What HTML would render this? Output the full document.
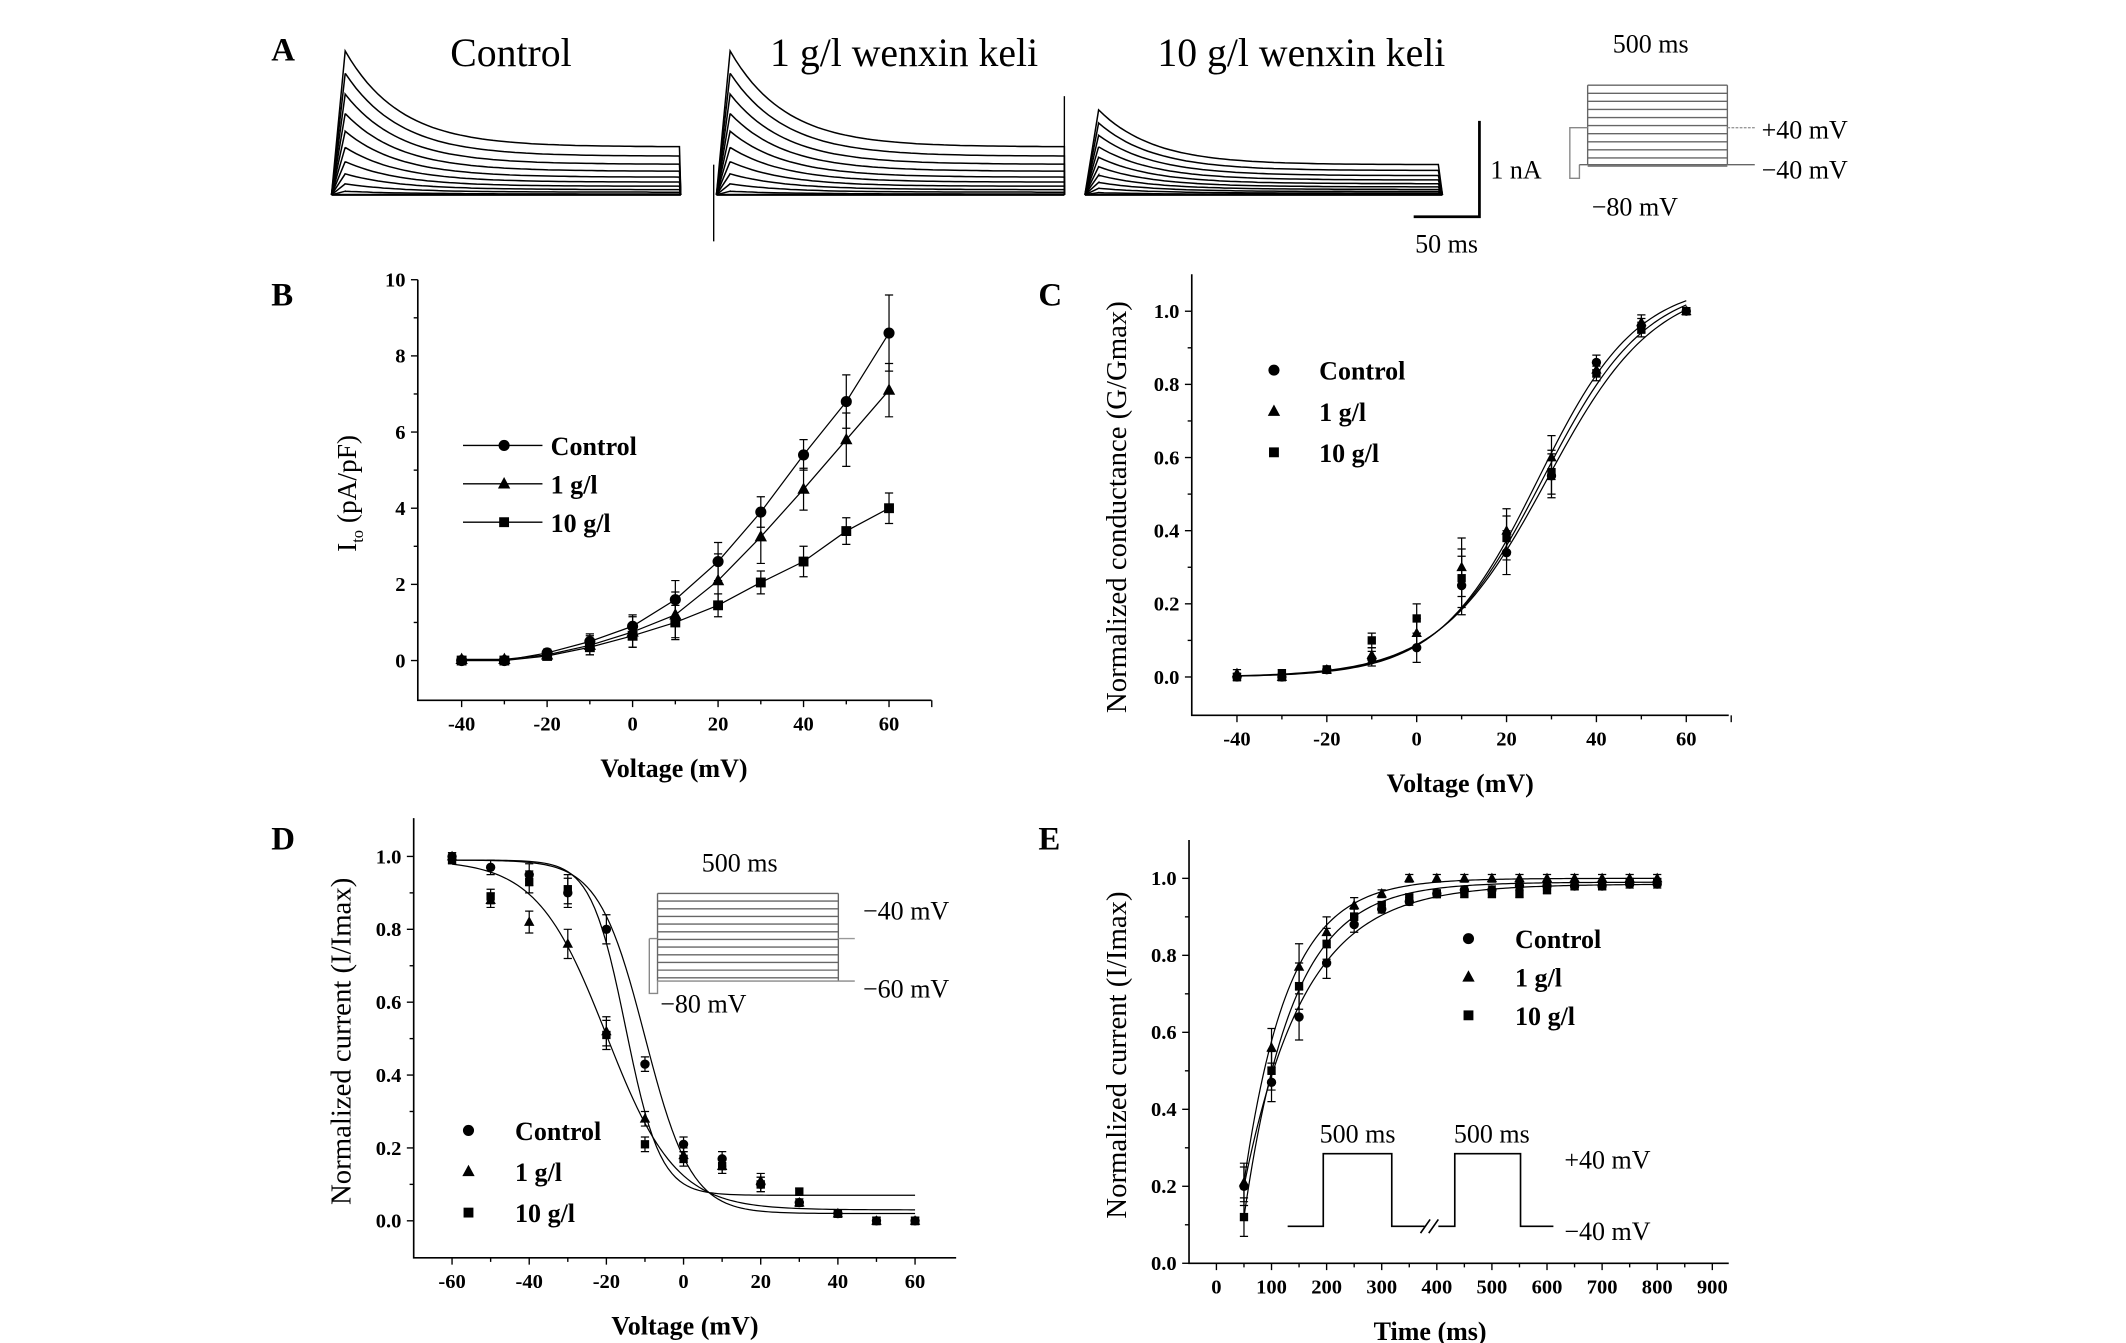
<!DOCTYPE html>
<html><head><meta charset="utf-8">
<style>
html,body{margin:0;padding:0;background:#fff;}
svg{display:block;}
text{font-family:"Liberation Serif",serif;fill:#000;}
.b{font-weight:bold;}
</style></head>
<body>
<svg id="fig" xmlns="http://www.w3.org/2000/svg" width="2126" height="1343" viewBox="0 0 1552 980">
<g id="A"></g>
<g id="B"></g>
<g id="C"></g>
<g id="D"></g>
<g id="E"></g>
</svg>
<script>
// ---------- DATA ----------
const voltsB = [-40,-30,-20,-10,0,10,20,30,40,50,60];
const bControl = [0,0,0.2,0.5,0.9,1.6,2.6,3.9,5.4,6.8,8.6];
const bControlErr = [0.05,0.05,0.1,0.2,0.3,0.5,0.5,0.4,0.4,0.7,1.0];
const b1g = [0.03,0.03,0.15,0.4,0.75,1.2,2.1,3.25,4.5,5.8,7.1];
const b1gErr = [0.05,0.05,0.1,0.25,0.4,0.6,0.7,0.7,0.55,0.7,0.7];
const b10g = [0,0,0.12,0.35,0.65,1.0,1.45,2.05,2.6,3.4,4.0];
const b10gErr = [0.05,0.05,0.1,0.2,0.3,0.45,0.3,0.3,0.4,0.35,0.4];
const bYTicks = [0,2,4,6,8,10];
const bXTicks = [-40,-20,0,20,40,60];

const voltsC = [-40,-30,-20,-10,0,10,20,30,40,50,60];
const cControl = [0,0,0.02,0.05,0.08,0.25,0.34,0.55,0.86,0.96,1.0];
const c1g = [0.01,0,0.02,0.06,0.12,0.3,0.4,0.6,0.84,0.97,1.0];
const c10g = [0,0.01,0.02,0.1,0.16,0.27,0.38,0.56,0.83,0.95,1.0];
const cErr = [0.01,0.01,0.01,0.02,0.04,0.08,0.06,0.06,0.02,0.02,0.01];
const cFitVhalf = [27,28,29];
const cFitK = [11,11.5,12];
const cYTicks = [0,0.2,0.4,0.6,0.8,1.0];
const cXTicks = [-40,-20,0,20,40,60];

const voltsD = [-60,-50,-40,-30,-20,-10,0,10,20,30,40,50,60];
const dControl = [1.0,0.97,0.95,0.9,0.8,0.43,0.21,0.17,0.1,0.05,0.02,0,0];
const d1g = [1.0,0.88,0.82,0.76,0.52,0.28,0.18,0.15,0.11,0.05,0.02,0,0];
const d10g = [0.99,0.89,0.93,0.91,0.51,0.21,0.17,0.15,0.1,0.08,0.02,0,0];
const dErr = [0.01,0.02,0.03,0.04,0.04,0.02,0.02,0.02,0.02,0.01,0.01,0.01,0.01];
const dFitV = [-10,-20,-15];
const dFitK = [6,9,4.5];
const dFitBase = [0.02,0.03,0.07];
const dYTicks = [0,0.2,0.4,0.6,0.8,1.0];
const dXTicks = [-60,-40,-20,0,20,40,60];

const timesE = [50,100,150,200,250,300,350,400,450,500,550,600,650,700,750,800];
const eControl = [0.2,0.47,0.64,0.78,0.88,0.92,0.94,0.96,0.97,0.97,0.98,0.98,0.98,0.98,0.985,0.985];
const e1g = [0.21,0.56,0.77,0.86,0.93,0.96,1.0,1.0,1.0,1.0,1.0,1.0,1.0,1.0,1.0,1.0];
const e10g = [0.12,0.5,0.72,0.83,0.9,0.93,0.95,0.96,0.96,0.96,0.96,0.97,0.98,0.98,0.99,0.99];
const eErr = [0.05,0.05,0.06,0.04,0.02,0.01,0.01,0.01,0.01,0.01,0.01,0.01,0.01,0.01,0.01,0.01];
const eTau = [110,80,88];
const eYTicks = [0,0.2,0.4,0.6,0.8,1.0];
const eXTicks = [0,100,200,300,400,500,600,700,800,900];

const NS="http://www.w3.org/2000/svg";
function el(parent,tag,attrs,txt){const e=document.createElementNS(NS,tag);for(const k in attrs)e.setAttribute(k,attrs[k]);if(txt!==undefined)e.textContent=txt;parent.appendChild(e);return e;}
function lin(d0,d1,r0,r1){return v=>r0+(v-d0)*(r1-r0)/(d1-d0);}

function marker(g,shape,x,y,s){
  let m;
  if(shape==='circle'){m=el(g,'circle',{cx:x,cy:y,r:s*0.9,fill:'#000'});}
  else if(shape==='tri'){m=el(g,'polygon',{points:`${x},${y-s*1.1} ${x-s},${y+s*0.75} ${x+s},${y+s*0.75}`,fill:'#000'});}
  else {m=el(g,'rect',{x:x-s*0.8,y:y-s*0.8,width:s*1.6,height:s*1.6,fill:'#000'});}
  
  
  return m;
}
function errbar(g,x,y1,y2){
  const e=el(g,'path',{d:`M${x},${y1}V${y2}M${x-3},${y1}H${x+3}M${x-3},${y2}H${x+3}`,stroke:'#000','stroke-width':0.9,fill:'none'});
  
  
}
function axes(g,o){
  const ax=el(g,'g',{});
  
  
  el(ax,'path',{d:`M${o.left},${o.top}V${o.bottom}H${o.right}`,stroke:'#000','stroke-width':1.2,fill:'none'});
  o.yt.forEach((v,i)=>{const y=o.ys(v);el(ax,'line',{x1:o.left-5,x2:o.left,y1:y,y2:y,stroke:'#000'});
    const t=el(ax,'text',{x:o.left-9,y:y+5,'text-anchor':'end','font-size':15,class:'b'},o.yl?o.yl[i]:v);
    
    if(i<o.yt.length-1){const ym=o.ys((v+o.yt[i+1])/2);el(ax,'line',{x1:o.left-3,x2:o.left,y1:ym,y2:ym,stroke:'#000'});}
  });
  o.xt.forEach((v,i)=>{const x=o.xs(v);el(ax,'line',{x1:x,x2:x,y1:o.bottom,y2:o.bottom+5,stroke:'#000'});
    const t=el(ax,'text',{x:x,y:o.bottom+22,'text-anchor':'middle','font-size':15,class:'b'},v);
    
    if(i<o.xt.length-1){const xm=o.xs((v+o.xt[i+1])/2);el(ax,'line',{x1:xm,x2:xm,y1:o.bottom,y2:o.bottom+3,stroke:'#000'});}
  });
  if(o.xmax!==undefined){const xm=o.xs(o.xmax);el(ax,'line',{x1:xm,x2:xm,y1:o.bottom,y2:o.bottom+5,stroke:'#000'});}
  const xt=el(ax,'text',{x:o.xtx,y:o.bottom+56,'text-anchor':'middle','font-size':19,class:'b'},o.xtitle);
  
}
function ytitle(g,x,y,txt,size){
  const t=el(g,'text',{x:0,y:0,transform:`translate(${x},${y}) rotate(-90)`,'text-anchor':'middle','font-size':size||20},txt);
  
  return t;
}
function label(g,x,y,t){const e=el(g,'text',{x:x,y:y,'font-size':24,class:'b'},t);}

// ---------- PANEL A ----------
(function(){
  const g=document.getElementById('A');
  label(g,198,44,'A');
  const titles=[['Control',373],['1 g/l wenxin keli',660],['10 g/l wenxin keli',950]];
  titles.forEach(t=>{const e=el(g,'text',{x:t[1],y:48,'text-anchor':'middle','font-size':29},t[0]);});
  const sets=[{x0:242,x1:497,base:142,peak:105,ss:35},{x0:523,x1:777,base:142,peak:105,ss:35},{x0:792,x1:1053,base:142,peak:62,ss:22}];
  sets.forEach((s,si)=>{
    const tg=el(g,'g',{});
    
    for(let k=0;k<11;k++){
      const f=Math.pow(k/10,1.6);
      const pk=s.peak*f, sv=s.ss*f*(0.7+0.3*f);
      let d=`M${s.x0},${s.base}`;
      const tp=s.x0+10;
      d+=`L${tp},${s.base-pk}`;
      for(let x=tp;x<=s.x1;x+=4){const t=(x-tp);const y=s.base-(sv+(pk-sv)*Math.exp(-t/40));d+=`L${x},${y.toFixed(1)}`;}
      d+=`L${s.x1},${s.base}`;
      el(tg,'path',{d:d,stroke:'#000','stroke-width':1.1,fill:'none'});
    }
    el(tg,'line',{x1:s.x0,x2:s.x1,y1:s.base,y2:s.base,stroke:'#000','stroke-width':1.5});
  });
  el(g,'line',{x1:521,x2:521,y1:120,y2:176,stroke:'#000','stroke-width':1});
  el(g,'line',{x1:777,x2:777,y1:70,y2:142,stroke:'#000','stroke-width':1});
  const sb=el(g,'path',{d:'M1080,88V158H1032',stroke:'#000','stroke-width':2,fill:'none'});
  
  el(g,'text',{x:1088,y:130,'font-size':19},'1 nA');
  el(g,'text',{x:1056,y:184,'text-anchor':'middle','font-size':19},'50 ms');
  const pg=el(g,'g',{});
  
  el(pg,'text',{x:1205,y:38,'text-anchor':'middle','font-size':19},'500 ms');
  for(let i=0;i<11;i++){const y=62+i*5.9;el(pg,'line',{x1:1159,x2:1261,y1:y,y2:y,stroke:'#666','stroke-width':1});}
  el(pg,'line',{x1:1159,x2:1159,y1:62,y2:120,stroke:'#666'});
  el(pg,'line',{x1:1261,x2:1261,y1:62,y2:120,stroke:'#666'});
  el(pg,'path',{d:'M1153,120V130H1146V93H1159',stroke:'#888',fill:'none'});
  el(pg,'path',{d:'M1153,120H1281',stroke:'#666',fill:'none'});
  el(pg,'line',{x1:1261,x2:1281,y1:93,y2:93,stroke:'#999','stroke-dasharray':'2,1'});
  el(pg,'text',{x:1286,y:101,'font-size':19},'+40 mV');
  el(pg,'text',{x:1286,y:130,'font-size':19},'−40 mV');
  el(pg,'text',{x:1162,y:157,'font-size':19},'−80 mV');
})();

// ---------- PANEL B ----------
(function(){
  const g=document.getElementById('B');
  label(g,198,223,'B');
  const xs=lin(-40,60,337,649), ys=lin(0,10,482,204);
  axes(g,{left:305,top:204,bottom:511,right:680,xs,ys,yt:bYTicks,xt:bXTicks,xtx:492,xtitle:'Voltage (mV)',xmax:70});
  const t=ytitle(g,260,360,'',20);
  t.innerHTML='I<tspan font-size="12" dy="5">to</tspan><tspan dy="-5"> (pA/pF)</tspan>';
  const series=[[bControl,bControlErr,'circle'],[b1g,b1gErr,'tri'],[b10g,b10gErr,'square']];
  const names=['series-control','series-1g','series-10g'];
  series.forEach((s,si)=>{
    const sg=el(g,'g',{});
    
    el(sg,'polyline',{points:voltsB.map((v,i)=>`${xs(v)},${ys(s[0][i])}`).join(' '),stroke:'#000','stroke-width':0.9,fill:'none'});
    voltsB.forEach((v,i)=>{errbar(sg,xs(v),ys(s[0][i]+s[1][i]),ys(s[0][i]-s[1][i]));marker(sg,s[2],xs(v),ys(s[0][i]),4.5);});
  });
  const lg=el(g,'g',{});
  
  [['Control','circle',326],['1 g/l','tri',354],['10 g/l','square',382]].forEach(e=>{
    const eg=el(lg,'g',{});
    
    el(eg,'line',{x1:338,x2:396,y1:e[2]-1,y2:e[2]-1,stroke:'#000'});
    marker(eg,e[1],368,e[2]-1,4.5);
    el(eg,'text',{x:402,y:e[2]+6,'font-size':19,class:'b'},e[0]);
  });
})();

// ---------- PANEL C ----------
(function(){
  const g=document.getElementById('C');
  label(g,758,223,'C');
  const xs=lin(-40,60,903,1231), ys=lin(0,1,494,227);
  axes(g,{left:870,top:200,bottom:522,right:1262,xs,ys,yt:cYTicks,xt:cXTicks,yl:['0.0','0.2','0.4','0.6','0.8','1.0'],xtx:1066,xtitle:'Voltage (mV)',xmax:70});
  ytitle(g,822,370,'Normalized conductance (G/Gmax)',21);
  const series=[[cControl,'circle'],[c1g,'tri'],[c10g,'square']];
  const names=['series-control','series-1g','series-10g'];
  series.forEach((s,si)=>{
    const sg=el(g,'g',{});
    
    let d='';for(let v=-40;v<=60;v+=1){const y=1.08/(1+Math.exp((cFitVhalf[si]-v)/cFitK[si]));d+=(d?'L':'M')+xs(v)+','+ys(y);}
    const fp=el(sg,'path',{d:d,stroke:'#000','stroke-width':0.9,fill:'none'});
    
    voltsC.forEach((v,i)=>{errbar(sg,xs(v),ys(s[0][i]+cErr[i]),ys(s[0][i]-cErr[i]));marker(sg,s[1],xs(v),ys(s[0][i]),3.8);});
  });
  const lg=el(g,'g',{});
  
  [['Control','circle',271],['1 g/l','tri',301],['10 g/l','square',331]].forEach(e=>{
    const eg=el(lg,'g',{});
    
    marker(eg,e[1],930,e[2]-1,4.5);
    el(eg,'text',{x:963,y:e[2]+6,'font-size':19,class:'b'},e[0]);
  });
})();

// ---------- PANEL D ----------
(function(){
  const g=document.getElementById('D');
  label(g,198,620,'D');
  const xs=lin(-60,60,330,668), ys=lin(0,1,891,625);
  axes(g,{left:302,top:597,bottom:918,right:698,xs,ys,yt:dYTicks,xt:dXTicks,yl:['0.0','0.2','0.4','0.6','0.8','1.0'],xtx:500,xtitle:'Voltage (mV)'});
  ytitle(g,256,760,'Normalized current (I/Imax)',21);
  const series=[[dControl,'circle'],[d1g,'tri'],[d10g,'square']];
  const names=['series-control','series-1g','series-10g'];
  series.forEach((s,si)=>{
    const sg=el(g,'g',{});
    
    let d='';for(let v=-60;v<=60;v+=1){const b=dFitBase[si];const y=b+(0.99-b)/(1+Math.exp((v-dFitV[si])/dFitK[si]));d+=(d?'L':'M')+xs(v)+','+ys(y);}
    const fp=el(sg,'path',{d:d,stroke:'#000','stroke-width':0.9,fill:'none'});
    
    voltsD.forEach((v,i)=>{errbar(sg,xs(v),ys(s[0][i]+dErr[i]),ys(s[0][i]-dErr[i]));marker(sg,s[1],xs(v),ys(s[0][i]),3.8);});
  });
  const pg=el(g,'g',{});
  
  el(pg,'text',{x:540,y:636,'text-anchor':'middle','font-size':19},'500 ms');
  for(let i=0;i<12;i++){const y=652+i*5.6;el(pg,'line',{x1:480,x2:612,y1:y,y2:y,stroke:'#666'});}
  el(pg,'line',{x1:480,x2:480,y1:652,y2:716,stroke:'#666'});
  el(pg,'line',{x1:612,x2:612,y1:652,y2:716,stroke:'#666'});
  el(pg,'path',{d:'M474,685H480M474,685V725H480V716H624',stroke:'#888',fill:'none'});
  el(pg,'line',{x1:612,x2:624,y1:685,y2:685,stroke:'#999'});
  el(pg,'text',{x:630,y:671,'font-size':19},'−40 mV');
  el(pg,'text',{x:630,y:728,'font-size':19},'−60 mV');
  el(pg,'text',{x:482,y:739,'font-size':19},'−80 mV');
  const lg=el(g,'g',{});
  
  [['Control','circle',826],['1 g/l','tri',856],['10 g/l','square',886]].forEach(e=>{
    const eg=el(lg,'g',{});
    
    marker(eg,e[1],342,e[2]-1,4.5);
    el(eg,'text',{x:376,y:e[2]+6,'font-size':19,class:'b'},e[0]);
  });
})();

// ---------- PANEL E ----------
(function(){
  const g=document.getElementById('E');
  label(g,758,620,'E');
  const xs=lin(0,900,888,1250), ys=lin(0,1,922,641);
  axes(g,{left:868,top:613,bottom:922,right:1262,xs,ys,yt:eYTicks,xt:eXTicks,yl:['0.0','0.2','0.4','0.6','0.8','1.0'],xtx:1044,xtitle:'Time (ms)'});
  ytitle(g,822,770,'Normalized current (I/Imax)',21);
  const series=[[eControl,'circle'],[e1g,'tri'],[e10g,'square']];
  const names=['series-control','series-1g','series-10g'];
  series.forEach((s,si)=>{
    const sg=el(g,'g',{});
    
    const fin=s[0][s[0].length-1];
    let d='';for(let t=50;t<=800;t+=5){const y=fin-(fin-s[0][0])*Math.exp(-(t-50)/eTau[si]);d+=(d?'L':'M')+xs(t)+','+ys(y);}
    const fp=el(sg,'path',{d:d,stroke:'#000','stroke-width':0.9,fill:'none'});
    
    timesE.forEach((t,i)=>{errbar(sg,xs(t),ys(s[0][i]+eErr[i]),ys(s[0][i]-eErr[i]));marker(sg,s[1],xs(t),ys(s[0][i]),3.8);});
  });
  const lg=el(g,'g',{});
  
  [['Control','circle',686],['1 g/l','tri',714],['10 g/l','square',742]].forEach(e=>{
    const eg=el(lg,'g',{});
    
    marker(eg,e[1],1072,e[2]-1,4.5);
    el(eg,'text',{x:1106,y:e[2]+6,'font-size':19,class:'b'},e[0]);
  });
  const pg=el(g,'g',{});
  
  el(pg,'path',{d:'M940,895H966V842H1016V895H1040M1050,895H1062V842H1110V895H1134',stroke:'#000','stroke-width':1.2,fill:'none'});
  el(pg,'path',{d:'M1037,900L1044,890M1043,900L1050,890',stroke:'#000','stroke-width':1.2,fill:'none'});
  el(pg,'text',{x:991,y:834,'text-anchor':'middle','font-size':19},'500 ms');
  el(pg,'text',{x:1089,y:834,'text-anchor':'middle','font-size':19},'500 ms');
  el(pg,'text',{x:1142,y:853,'font-size':19},'+40 mV');
  el(pg,'text',{x:1142,y:905,'font-size':19},'−40 mV');
})();
</script>
</body></html>
